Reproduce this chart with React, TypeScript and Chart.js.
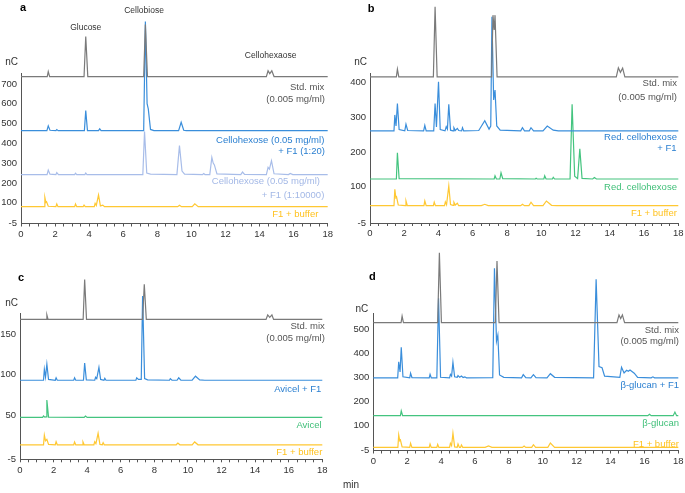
import React, { useEffect, useRef } from "react";
import { Chart, registerables } from "chart.js";

Chart.register(...registerables);

const FONT = '"Liberation Sans", Arial, Helvetica, sans-serif';
Chart.defaults.font.family = FONT;

type Pt = [number, number];

// ---------------- Panel a ----------------
const aStdMix: Pt[] = [[0,737],[1.54,737],[1.6,762],[1.68,737],[3.7,737],[3.8,939],[3.92,737],[7.2,737],[7.3,1000],[7.42,737],[14.4,737],[14.5,766],[14.6,752],[14.72,766],[14.85,737],[18,737]];
const aHex20: Pt[] = [[0,464],[1.52,464],[1.6,488],[1.7,466],[2.05,464],[2.1,469],[2.18,464],[3.72,464],[3.8,565],[3.9,464],[4.55,464],[4.62,473],[4.7,464],[7.2,464],[7.3,1015],[7.4,600],[7.47,574],[7.6,470],[7.8,464],[9.25,464],[9.4,506],[9.55,466],[9.7,464],[18,464]];
const aHex10000: Pt[] = [[0,242],[1.53,242],[1.6,265],[1.7,244],[2.05,242],[2.1,252],[2.2,242],[3.15,242],[3.2,249],[3.27,242],[3.75,242],[3.8,250],[3.87,242],[7.15,242],[7.25,459],[7.38,250],[7.6,244],[9.15,242],[9.3,388],[9.45,260],[9.6,244],[10.65,242],[10.72,247],[10.8,242],[11.08,242],[11.2,329],[11.28,300],[11.35,291],[11.5,246],[12.9,242],[13.0,255],[13.12,243],[14.4,242],[14.5,279],[14.58,270],[14.7,312],[14.85,246],[15.7,242],[15.8,248],[15.95,242],[18,242]];
const aBuffer: Pt[] = [[0,80],[1.35,80],[1.4,127],[1.46,102],[1.5,105],[1.6,82],[2.05,80],[2.1,94],[2.17,80],[3.15,80],[3.2,94],[3.27,80],[3.65,80],[3.7,88],[3.77,80],[4.3,80],[4.35,97],[4.42,86],[4.55,139],[4.66,84],[4.8,88],[4.9,80],[9.2,80],[9.3,87],[9.42,80],[10.05,80],[10.2,94],[10.4,80],[18,80]];
const aYTicks = [-5, 100, 200, 300, 400, 500, 600, 700];

// ---------------- Panel b ----------------
const bStdMix: Pt[] = [[0,417],[1.54,417],[1.6,439],[1.68,417],[3.7,417],[3.8,619],[3.92,417],[7.1,417],[7.18,595],[7.25,552],[7.3,595],[7.42,417],[14.38,417],[14.5,443],[14.62,430],[14.75,442],[14.88,417],[18,417]];
const bRedHexF1: Pt[] = [[0,261],[1.4,261],[1.45,307],[1.52,275],[1.6,340],[1.7,265],[2.03,261],[2.1,280],[2.2,262],[3.13,261],[3.2,277],[3.28,261],[3.72,261],[3.8,340],[3.88,272],[4.0,403],[4.1,265],[4.38,261],[4.45,273],[4.52,266],[4.6,338],[4.7,263],[4.85,261],[4.9,270],[4.98,262],[5.1,268],[5.18,262],[5.35,261],[5.4,270],[5.47,261],[6.35,262],[6.7,290],[6.95,266],[7.05,275],[7.12,590],[7.22,350],[7.3,379],[7.4,275],[7.6,263],[8.8,261],[8.9,270],[9.02,261],[9.3,261],[9.4,270],[9.55,261],[10.1,261],[10.35,275],[10.7,263],[11,261],[18,261]];
const bRedHex: Pt[] = [[0,122],[1.54,122],[1.6,198],[1.7,123],[7.25,122],[7.3,131],[7.38,122],[7.58,122],[7.65,140],[7.75,123],[9.65,122],[9.7,124],[9.76,122],[10.15,122],[10.2,131],[10.28,122],[10.65,122],[10.7,127],[10.78,122],[11.68,122],[11.8,338],[11.95,130],[12.12,123],[12.25,209],[12.38,124],[13.0,122],[13.1,126],[13.22,122],[18,122]];
const bBuffer: Pt[] = [[0,45],[1.4,45],[1.45,92],[1.51,68],[1.55,70.5],[1.65,47],[2.05,45],[2.1,59],[2.18,45],[3.15,45],[3.2,59],[3.28,45],[3.7,45],[3.75,55],[3.82,45],[4.35,45],[4.4,56],[4.47,48],[4.6,102],[4.7,48],[4.85,46],[4.9,55],[4.98,47],[5.1,52],[5.18,45],[6.5,45],[6.7,49],[6.9,45],[8.8,45],[8.9,49],[9.02,45],[9.28,45],[9.4,55],[9.55,45],[10.1,45],[10.3,58.5],[10.6,46],[10.9,45],[18,45]];
const bYTicks = [-5, 100, 200, 300, 400];

// ---------------- Panel c ----------------
const cStdMix: Pt[] = [[0,168.5],[1.55,168.5],[1.6,174],[1.67,168.5],[3.76,168.5],[3.85,218],[3.96,168.5],[7.3,168.5],[7.4,212],[7.52,168.5],[14.65,168.5],[14.75,174],[14.87,171],[15.0,174],[15.1,168.5],[18,168.5]];
const cAvicelF1: Pt[] = [[0,93],[1.4,93],[1.45,106.6],[1.52,97],[1.6,113],[1.7,94],[2.1,93],[2.15,96],[2.22,93],[3.2,93],[3.25,96],[3.32,93],[3.78,93],[3.85,114.4],[3.95,93.5],[4.45,93],[4.5,96.7],[4.57,95],[4.7,109],[4.8,94],[5.0,93],[5.05,95.4],[5.12,93],[6.9,93],[6.95,96],[7.05,94],[7.22,94],[7.3,197.5],[7.42,95],[7.6,93.5],[8.9,93],[8.95,95],[9.05,93],[9.35,93],[9.45,96],[9.58,93],[10.25,93],[10.45,98],[10.7,93.5],[11,93],[18,93]];
const cAvicel: Pt[] = [[0,47],[1.35,47],[1.4,48.7],[1.48,47.3],[1.55,47.5],[1.6,68.5],[1.7,47.3],[3.82,47],[3.9,48.7],[4.0,47],[18,47]];
const cBuffer: Pt[] = [[0,13],[1.4,13],[1.45,25],[1.52,18],[1.6,19.8],[1.7,13.5],[2.1,13],[2.15,16.8],[2.22,13],[3.2,13],[3.25,16.5],[3.32,13],[3.7,13],[3.75,16.5],[3.82,13],[4.4,13],[4.45,16.8],[4.52,14.5],[4.65,27.2],[4.76,13.5],[4.9,13],[4.95,15.6],[5.02,13],[9.3,13],[9.4,15.2],[9.52,13],[10.25,13],[10.4,16.5],[10.6,13],[18,13]];
const cYTicks = [-5, 50, 100, 150];

// ---------------- Panel d ----------------
const dStdMix: Pt[] = [[0,527.5],[1.64,527.5],[1.7,555],[1.78,527.5],[3.8,527.5],[3.9,819],[4.02,527.5],[7.2,527.5],[7.3,785],[7.42,527.5],[14.38,527.5],[14.5,560],[14.6,545],[14.7,560],[14.83,527.5],[18,527.5]];
const dGlucanF1: Pt[] = [[0,298],[1.44,298],[1.5,365],[1.58,322],[1.65,425],[1.75,302],[2.15,298],[2.2,317],[2.28,299],[3.3,298],[3.35,312],[3.42,298],[3.75,298],[3.85,629],[3.97,300],[4.5,298],[4.55,312],[4.62,305],[4.7,362],[4.8,302],[4.95,300],[5.0,307],[5.1,300],[5.2,305],[5.3,299],[5.4,302],[5.5,298],[7.05,299],[7.15,754],[7.27,450],[7.35,476],[7.45,310],[7.7,300],[8.75,298],[8.85,311],[9.0,299],[9.3,298],[9.45,311],[9.6,299],[10.25,298],[10.45,315],[10.7,300],[13.0,298],[13.15,708],[13.32,345],[13.5,340],[13.65,305],[14.55,300],[14.65,342],[14.8,318],[14.95,329],[15.05,325],[15.15,330],[15.4,317],[15.6,300],[16.4,298],[16.5,302],[16.6,298],[18,298]];
const dGlucan: Pt[] = [[0,140],[1.6,140],[1.65,159.6],[1.73,140],[16.2,140],[16.3,146],[16.4,140],[17.7,140],[17.8,155],[17.9,140],[18,140]];
const dBuffer: Pt[] = [[0,8],[1.45,8],[1.5,59.6],[1.56,36],[1.6,38.75],[1.7,10],[2.15,8],[2.2,25],[2.28,8],[3.3,8],[3.35,22],[3.42,8],[3.75,8],[3.8,20.8],[3.87,8],[4.5,8],[4.55,25],[4.62,15],[4.7,66.7],[4.8,10],[4.95,8],[5.0,22],[5.08,8],[5.15,8],[5.2,18],[5.28,8],[6.6,8],[6.8,13.75],[7.0,8],[8.8,8],[8.9,13.75],[9.0,8],[9.35,8],[9.45,19],[9.58,8],[10.3,8],[10.45,26],[10.7,8],[18,8]];
const dYTicks = [-5, 100, 200, 300, 400, 500];

// shared x axis
const xMajorTicks = [0, 2, 4, 6, 8, 10, 12, 14, 16, 18];
const xMinorStep = 0.5;

// texts
const stdLabel = ["Std. mix", "(0.005 mg/ml)"];
const aLabels = ["Cellohexose (0.05 mg/ml)", "+ F1 (1:20)", "Cellohexose (0.05 mg/ml)", "+ F1 (1:10000)", "F1 + buffer"];
const aPeakNames = ["Glucose", "Cellobiose", "Cellohexaose"];
const bLabels = ["Red. cellohexose", "+ F1", "Red. cellohexose", "F1 + buffer"];
const cLabels = ["Avicel + F1", "Avicel", "F1 + buffer"];
const dLabels = ["β-glucan + F1", "β-glucan", "F1 + buffer"];

// styles
const C = {
  gray: "#7a7a7a", grayText: "#555555",
  blue: "#3a8edb", blueText: "#2a7fd0",
  light: "#a8bde9", lightText: "#a3b8e6",
  green: "#44c47f", greenText: "#3fbf78",
  yellow: "#ffc833", yellowText: "#ffc21f",
  axis: "#555555", tick: "#333333",
};

interface TextSpec { text: string; x: number; y: number; color: string; }
interface SeriesSpec { name: string; data: Pt[]; color: string; }
interface PanelCfg {
  left: number; top: number; w: number; h: number;
  padTop: number; padRight: number; yAxisW: number; xAxisH: number;
  yMin: number; yMax: number; yTicks: number[];
  letter: string; letterPos: [number, number];
  unitOff: [number, number];
  series: SeriesSpec[];
  labels: TextSpec[];
  peakNames?: TextSpec[];
  extra?: { text: string; x: number; y: number }[];
}

const panels: PanelCfg[] = [
  {
    left: 0, top: 0, w: 340, h: 240, padTop: 73, padRight: 12.3, yAxisW: 21, xAxisH: 16.5,
    yMin: -5, yMax: 755, yTicks: aYTicks, letter: "a", letterPos: [20, 8], unitOff: [-3, -11],
    series: [
      { name: "Std. mix", data: aStdMix, color: C.gray },
      { name: aLabels[0] + " " + aLabels[1], data: aHex20, color: C.blue },
      { name: aLabels[2] + " " + aLabels[3], data: aHex10000, color: C.light },
      { name: aLabels[4], data: aBuffer, color: C.yellow },
    ],
    labels: [
      { text: stdLabel[0], x: 17.8, y: 684, color: C.grayText },
      { text: stdLabel[1], x: 17.84, y: 624, color: C.grayText },
      { text: aLabels[0], x: 17.8, y: 417, color: C.blueText },
      { text: aLabels[1], x: 17.84, y: 361, color: C.blueText },
      { text: aLabels[2], x: 17.55, y: 206, color: C.lightText },
      { text: aLabels[3], x: 17.8, y: 135, color: C.lightText },
      { text: aLabels[4], x: 17.45, y: 42, color: C.yellowText },
    ],
    peakNames: [
      { text: aPeakNames[0], x: 3.8, y: 982, color: "#333333" },
      { text: aPeakNames[1], x: 7.22, y: 1068, color: "#333333" },
      { text: aPeakNames[2], x: 14.65, y: 841, color: "#333333" },
    ],
  },
  {
    left: 340, top: 0, w: 345, h: 240, padTop: 73, padRight: 6.7, yAxisW: 30, xAxisH: 17,
    yMin: -5, yMax: 428, yTicks: bYTicks, letter: "b", letterPos: [27.7, 8.5], unitOff: [-3, -11],
    series: [
      { name: "Std. mix", data: bStdMix, color: C.gray },
      { name: bLabels[0] + " " + bLabels[1], data: bRedHexF1, color: C.blue },
      { name: bLabels[2], data: bRedHex, color: C.green },
      { name: bLabels[3], data: bBuffer, color: C.yellow },
    ],
    labels: [
      { text: stdLabel[0], x: 17.92, y: 399, color: C.grayText },
      { text: stdLabel[1], x: 17.92, y: 359, color: C.grayText },
      { text: bLabels[0], x: 17.92, y: 243, color: C.blueText },
      { text: bLabels[1], x: 17.9, y: 209, color: C.blueText },
      { text: bLabels[2], x: 17.92, y: 99, color: C.greenText },
      { text: bLabels[3], x: 17.92, y: 24, color: C.yellowText },
    ],
  },
  {
    left: 0, top: 240, w: 340, h: 253, padTop: 73.3, padRight: 17.7, yAxisW: 20, xAxisH: 33.7,
    yMin: -5, yMax: 176, yTicks: cYTicks, letter: "c", letterPos: [18, 38], unitOff: [-2, -10],
    series: [
      { name: "Std. mix", data: cStdMix, color: C.gray },
      { name: cLabels[0], data: cAvicelF1, color: C.blue },
      { name: cLabels[1], data: cAvicel, color: C.green },
      { name: cLabels[2], data: cBuffer, color: C.yellow },
    ],
    labels: [
      { text: stdLabel[0], x: 18.15, y: 160.3, color: C.grayText },
      { text: stdLabel[1], x: 18.15, y: 145, color: C.grayText },
      { text: cLabels[0], x: 17.94, y: 82.2, color: C.blueText },
      { text: cLabels[1], x: 17.96, y: 37.5, color: C.greenText },
      { text: cLabels[2], x: 18.0, y: 3.7, color: C.yellowText },
    ],
  },
  {
    left: 340, top: 240, w: 345, h: 253, padTop: 73.3, padRight: 6.7, yAxisW: 33.3, xAxisH: 42.5,
    yMin: -5, yMax: 566.7, yTicks: dYTicks, letter: "d", letterPos: [29, 36.7], unitOff: [-5, -4],
    series: [
      { name: "Std. mix", data: dStdMix, color: C.gray },
      { name: dLabels[0], data: dGlucanF1, color: C.blue },
      { name: dLabels[1], data: dGlucan, color: C.green },
      { name: dLabels[2], data: dBuffer, color: C.yellow },
    ],
    labels: [
      { text: stdLabel[0], x: 18.04, y: 497, color: C.grayText },
      { text: stdLabel[1], x: 18.04, y: 448, color: C.grayText },
      { text: dLabels[0], x: 18.04, y: 265, color: C.blueText },
      { text: dLabels[1], x: 18.04, y: 108, color: C.greenText },
      { text: dLabels[2], x: 18.04, y: 22, color: C.yellowText },
    ],
    extra: [{ text: "min", x: 3, y: 245 }],
  },
];

function makeTextPlugin(p: PanelCfg) {
  return {
    id: "panelText",
    afterDraw(chart: any) {
      const ctx: CanvasRenderingContext2D = chart.ctx;
      const xs = chart.scales.x;
      const ys = chart.scales.y;
      const ca = chart.chartArea;
      ctx.save();
      ctx.textBaseline = "middle";
      // panel letter
      ctx.font = `bold 11px ${FONT}`;
      ctx.fillStyle = "#000";
      ctx.textAlign = "left";
      ctx.fillText(p.letter, p.letterPos[0], p.letterPos[1]);
      // unit
      ctx.font = `10px ${FONT}`;
      ctx.fillStyle = "#333";
      ctx.textAlign = "right";
      ctx.fillText("nC", ca.left + p.unitOff[0], ca.top + p.unitOff[1]);
      // peak names
      if (p.peakNames) {
        ctx.font = `8.5px ${FONT}`;
        ctx.textAlign = "center";
        for (const t of p.peakNames) {
          ctx.fillStyle = t.color;
          ctx.fillText(t.text, xs.getPixelForValue(t.x), ys.getPixelForValue(t.y));
        }
      }
      // series labels
      ctx.font = `9.5px ${FONT}`;
      ctx.textAlign = "right";
      for (const t of p.labels) {
        ctx.fillStyle = t.color;
        ctx.fillText(t.text, xs.getPixelForValue(t.x), ys.getPixelForValue(t.y));
      }
      if (p.extra) {
        ctx.font = `10px ${FONT}`;
        ctx.fillStyle = "#333";
        ctx.textAlign = "left";
        for (const t of p.extra) ctx.fillText(t.text, t.x, t.y);
      }
      ctx.restore();
    },
  };
}

function Panel({ cfg }: { cfg: PanelCfg }) {
  const ref = useRef<HTMLCanvasElement>(null);
  useEffect(() => {
    const canvas = ref.current!;
    const chart = new Chart(canvas, {
      type: "line",
      data: {
        datasets: cfg.series.map((s) => ({
          label: s.name,
          data: s.data as any,
          borderColor: s.color,
          backgroundColor: s.color,
          borderWidth: 1.2,
          pointRadius: 0,
          tension: 0,
          fill: false,
          clip: false as any,
        })),
      },
      options: {
        animation: false,
        responsive: false,
        maintainAspectRatio: false,
        events: [],
        layout: { padding: { left: 0, top: cfg.padTop, right: cfg.padRight, bottom: 0 } },
        plugins: { legend: { display: false }, tooltip: { enabled: false } },
        scales: {
          x: {
            type: "linear",
            min: 0,
            max: 18,
            afterBuildTicks: (s: any) => {
              const t: { value: number }[] = [];
              for (let v = 0; v <= 18 + 1e-9; v += xMinorStep) t.push({ value: Math.round(v * 10) / 10 });
              s.ticks = t;
            },
            afterFit: (s: any) => {
              s.height = cfg.xAxisH;
              s.paddingLeft = 0;
              s.paddingRight = 0;
            },
            grid: { display: true, drawOnChartArea: false, drawTicks: true, tickLength: 3, tickColor: C.axis, tickWidth: 1 },
            border: { display: true, color: C.axis, width: 1 },
            ticks: {
              autoSkip: false,
              maxRotation: 0,
              padding: 2,
              color: C.tick,
              font: { size: 9.5 },
              callback: (v: any) => (xMajorTicks.includes(Number(v)) ? String(v) : ""),
            },
          },
          y: {
            type: "linear",
            min: cfg.yMin,
            max: cfg.yMax,
            afterBuildTicks: (s: any) => {
              s.ticks = cfg.yTicks.map((v) => ({ value: v }));
            },
            afterFit: (s: any) => {
              s.width = cfg.yAxisW;
              s.paddingTop = 0;
              s.paddingBottom = 0;
            },
            grid: { display: false, drawTicks: false },
            border: { display: true, color: C.axis, width: 1 },
            ticks: {
              autoSkip: false,
              padding: 4,
              color: C.tick,
              font: { size: 9.5 },
              callback: (v: any) => String(v),
            },
          },
        },
      } as any,
      plugins: [makeTextPlugin(cfg)],
    });
    return () => chart.destroy();
  }, [cfg]);
  return (
    <canvas
      ref={ref}
      width={cfg.w}
      height={cfg.h}
      style={{ position: "absolute", left: cfg.left, top: cfg.top, width: cfg.w, height: cfg.h, display: "block" }}
    />
  );
}

export default function App() {
  return (
    <div style={{ position: "absolute", left: 0, top: 0, width: 685, height: 493, background: "#fff", overflow: "hidden" }}>
      {panels.map((p) => (
        <Panel key={p.letter} cfg={p} />
      ))}
    </div>
  );
}
